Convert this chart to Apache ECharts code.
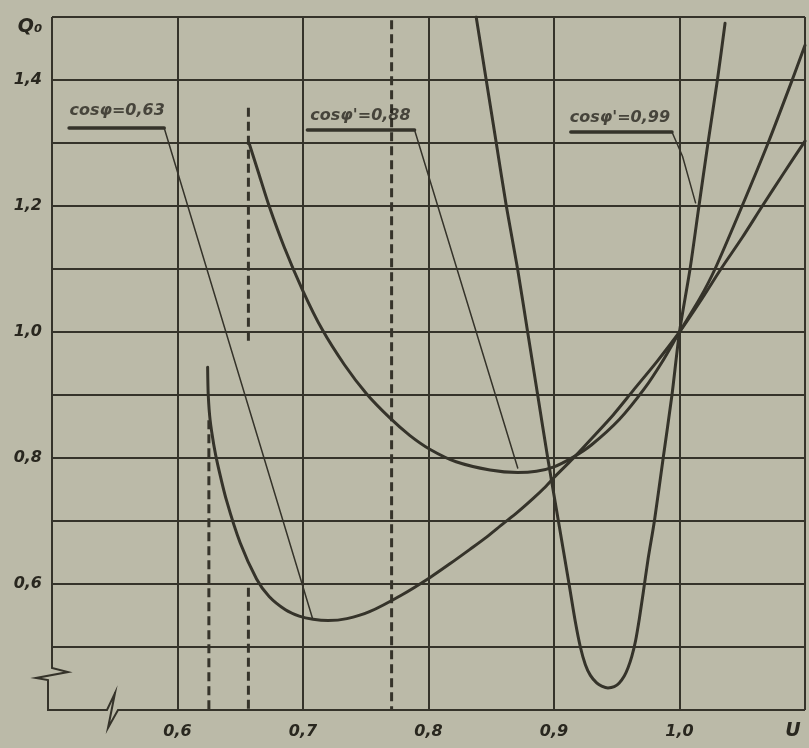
<!DOCTYPE html>
<html><head><meta charset="utf-8">
<script src="https://cdn.jsdelivr.net/npm/echarts@6/dist/echarts.min.js"></script>
<style>html,body{margin:0;padding:0;background:#bbbaa8;}#c{width:809px;height:748px;}</style>
</head><body><div id="c"></div>
<script>
// Tick labels
const xTickValues = [0.6, 0.7, 0.8, 0.9, 1.0];
const xTickLabels = ['0,6', '0,7', '0,8', '0,9', '1,0'];
const yTickValues = [0.6, 0.8, 1.0, 1.2, 1.4];
const yTickLabels = ['0,6', '0,8', '1,0', '1,2', '1,4'];

// Curve cos φ = 0,63  [U, Q0]
const curveCos063 = [[0.624,0.944],[0.6245,0.90],[0.626,0.86],[0.629,0.82],[0.632,0.79],[0.639,0.733],[0.650,0.665],[0.663,0.608],[0.673,0.580],[0.686,0.559],[0.697,0.549],[0.708,0.544],[0.720,0.542],[0.735,0.545],[0.753,0.556],[0.779,0.583],[0.801,0.610],[0.817,0.632],[0.833,0.655],[0.846,0.674],[0.859,0.695],[0.871,0.714],[0.883,0.735],[0.892,0.752],[0.90,0.769],[0.915,0.799],[0.93,0.831],[0.947,0.868],[0.963,0.907],[0.982,0.953],[1.0,1.0],[1.017,1.05],[1.033,1.1],[1.05,1.15],[1.066,1.2],[1.083,1.252],[1.1,1.303]];
// Curve cos φ' = 0,88
const curveCos088 = [[0.657,1.30],[0.665,1.25],[0.673,1.20],[0.685,1.135],[0.70,1.065],[0.715,1.005],[0.733,0.948],[0.7506,0.902],[0.769,0.864],[0.785,0.836],[0.801,0.814],[0.822,0.794],[0.849,0.781],[0.871,0.777],[0.886,0.779],[0.9,0.786],[0.915,0.801],[0.93,0.821],[0.952,0.861],[0.972,0.91],[0.986,0.952],[1.0,1.0],[1.0164,1.054],[1.0283,1.1],[1.0499,1.2],[1.0706,1.3],[1.0898,1.4],[1.1,1.455]];
// Curve cos φ' = 0,99
const curveCos099 = [[0.838,1.5],[0.846,1.4],[0.854,1.3],[0.862,1.2],[0.871,1.1],[0.879,1.0],[0.887,0.9],[0.895,0.8],[0.9035,0.7],[0.912,0.6],[0.917,0.54],[0.921,0.5],[0.925,0.472],[0.929,0.455],[0.934,0.443],[0.938,0.438],[0.943,0.435],[0.948,0.437],[0.952,0.443],[0.956,0.454],[0.959,0.467],[0.962,0.485],[0.965,0.51],[0.968,0.545],[0.971,0.585],[0.975,0.64],[0.98,0.7],[0.987,0.8],[0.994,0.9],[1.0,1.0],[1.0084,1.1],[1.0155,1.2],[1.0227,1.3],[1.0302,1.4],[1.0363,1.49]];

// Dashed verticals
const dashed1 = [[0.625,0.86],[0.625,0.4]];
const dashed2a = [[0.6565,1.356],[0.6565,0.983]];
const dashed2b = [[0.6565,0.594],[0.6565,0.4]];
const dashed3 = [[0.7706,1.495],[0.7706,0.4]];

// Annotations
const labelTexts = ['cosφ=0,63', "cosφ'=0,88", "cosφ'=0,99"];
const labelPos = [[0.5519,1.351],[0.7458,1.343],[0.9525,1.340]];
const underline063 = [[0.5136,1.3238],[0.5894,1.3238]];
const underline088 = [[0.7035,1.3206],[0.7889,1.3206]];
const underline099 = [[0.9134,1.3175],[0.994,1.3175]];
const leader063 = [[0.5894,1.3238],[0.7075,0.546]];
const leader088 = [[0.7889,1.3206],[0.8711,0.784]];
const leader099 = [[0.994,1.3175],[1.0024,1.279],[1.0128,1.205]];

const INK = '#35332a';
const TXT = '#29271f';
const FONT = 'DejaVu Sans';

function fmt(values, labels) {
  return function (v) {
    for (let i = 0; i < values.length; i++) {
      if (Math.abs(values[i] - v) < 1e-6) return labels[i];
    }
    return '';
  };
}
function lineSeries(data, width, extra) {
  return Object.assign({
    type: 'line', data: data, showSymbol: false, symbol: 'none', silent: true,
    lineStyle: { color: INK, width: width, cap: 'round', join: 'round' }, z: 3
  }, extra || {});
}
function dashSeries(data) {
  return {
    type: 'line', data: data, showSymbol: false, symbol: 'none', silent: true,
    lineStyle: { color: INK, width: 3, type: [9, 5] }, z: 2
  };
}

const chart = echarts.init(document.getElementById('c'), null, { renderer: 'canvas' });
chart.setOption({
  animation: false,
  backgroundColor: '#bbbaa8',
  grid: { left: 52, right: 4, top: 17, bottom: 38 },
  xAxis: {
    type: 'value', min: 0.5, max: 1.1, interval: 0.1,
    axisLine: { show: false }, axisTick: { show: false },
    splitLine: { show: true, showMinLine: false, lineStyle: { color: INK, width: 2 } },
    axisLabel: { formatter: fmt(xTickValues, xTickLabels), color: TXT, fontFamily: FONT, fontStyle: 'italic', fontWeight: 'bold', fontSize: 16, margin: 14 }
  },
  yAxis: {
    type: 'value', min: 0.4, max: 1.5, interval: 0.1,
    axisLine: { show: false }, axisTick: { show: false },
    splitLine: { show: true, showMinLine: false, lineStyle: { color: INK, width: 2 } },
    axisLabel: { formatter: fmt(yTickValues, yTickLabels), color: TXT, fontFamily: FONT, fontStyle: 'italic', fontWeight: 'bold', fontSize: 16, margin: 10 }
  },
  series: [
    lineSeries(curveCos063, 3, { smooth: 0.25 }),
    lineSeries(curveCos088, 3, { smooth: 0.25 }),
    lineSeries(curveCos099, 3, { smooth: 0.25 }),
    dashSeries(dashed1), dashSeries(dashed2a), dashSeries(dashed2b), dashSeries(dashed3),
    lineSeries(underline063, 3.5), lineSeries(underline088, 3.5), lineSeries(underline099, 3.5),
    lineSeries(leader063, 1.5), lineSeries(leader088, 1.5), lineSeries(leader099, 1.5),
    {
      type: 'scatter', silent: true, symbolSize: 1, itemStyle: { color: 'rgba(0,0,0,0)' }, z: 4,
      data: labelTexts.map((t, i) => ({ name: t, value: labelPos[i] })),
      label: { show: true, position: 'inside', formatter: p => p.name, color: TXT, fontFamily: FONT, fontStyle: 'italic', fontWeight: 'bold', fontSize: 16 }
    }
  ]
});

// Broken-axis border and axis names, placed from the coordinate system
const c0 = chart.convertToPixel({ gridIndex: 0 }, [0.5, 0.4]);
const cT = chart.convertToPixel({ gridIndex: 0 }, [0.5, 1.5]);
const cR = chart.convertToPixel({ gridIndex: 0 }, [1.1, 0.4]);
const x0 = c0[0], y0 = c0[1], yT = cT[1], xR = cR[0];
chart.setOption({
  graphic: [
    { type: 'polyline', silent: true, z: 10,
      shape: { points: [[x0, yT], [x0, y0 - 42], [x0 + 16, y0 - 38], [x0 - 16, y0 - 32], [x0 - 4, y0 - 30], [x0 - 4, y0], [x0 + 55, y0], [x0 + 63, y0 - 17], [x0 + 56, y0 + 18], [x0 + 66, y0], [xR, y0]] },
      style: { stroke: INK, lineWidth: 2, fill: null } },
    { type: 'text', silent: true, z: 10, x: 30, y: 27,
      style: { text: 'Q₀', font: 'italic bold 19px "DejaVu Sans"', fill: TXT, align: 'center', verticalAlign: 'middle' } },
    { type: 'text', silent: true, z: 10, x: xR - 12, y: 731,
      style: { text: 'U', font: 'italic bold 19px "DejaVu Sans"', fill: TXT, align: 'center', verticalAlign: 'middle' } }
  ]
});
</script></body></html>
